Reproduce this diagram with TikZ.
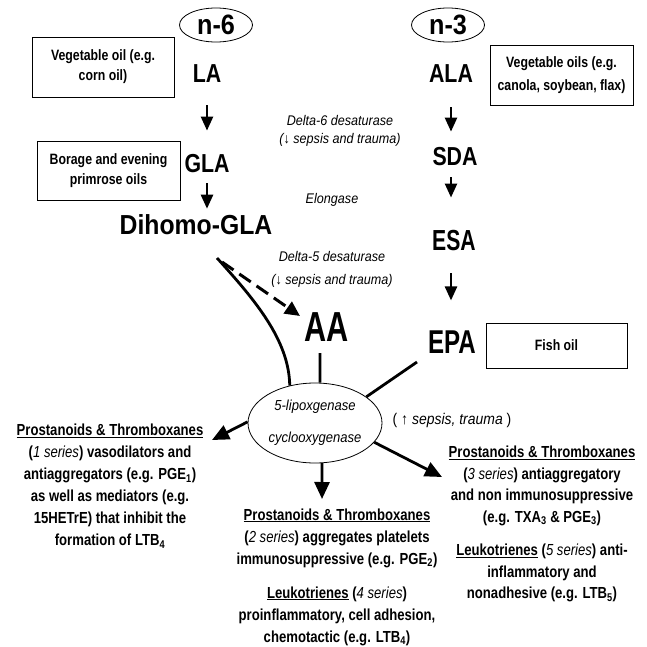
\documentclass[tikz,border=0pt]{standalone}
\usepackage{fontspec}
\setmainfont{Liberation Sans}
\newfontfamily\condA{Liberation Sans}[FakeStretch=0.82]
\newfontfamily\condB{Liberation Sans}[FakeStretch=0.9]
\newfontfamily\condC{Liberation Sans}[FakeStretch=0.73]
\usetikzlibrary{arrows.meta,shapes.geometric}
\tikzset{
  lbl/.style={inner sep=0pt, font=\condA\bfseries\fontsize{26}{30}\selectfont},
  lblc/.style={inner sep=0pt, font=\condC\bfseries\fontsize{#1}{#1}\selectfont},
  src/.style={draw, line width=0.8pt, inner sep=0pt, align=center,
    font=\condA\bfseries\fontsize{15}{20}\selectfont},
  enz/.style={align=center, inner sep=0pt, font=\condB\itshape\fontsize{14}{18}\selectfont},
  eff/.style={align=center, inner sep=0pt, font=\condA\bfseries\fontsize{16}{22}\selectfont},
  omega/.style={ellipse, draw, line width=0.8pt, minimum width=73pt, minimum height=34pt,
    inner sep=0pt, font=\condB\bfseries\fontsize{28}{30}\selectfont},
  flow/.style={line width=2.5pt, -{Triangle[length=14pt,width=12pt]}},
  bigflow/.style={line width=2.8pt, -{Triangle[length=17pt,width=15pt]}},
  link/.style={line width=2.8pt},
}
\begin{document}
\begin{tikzpicture}[x=1pt,y=-1pt]
\useasboundingbox (0,0) rectangle (647,647);
% n-6 column
\node[omega] (n6) at (216,25) {n-6};
\node[lbl] (la) at (207,74) {LA};
\node[lbl] (gla) at (207,164) {GLA};
\node[inner sep=0pt, font=\condB\bfseries\fontsize{27.5}{30}\selectfont] (dgla) at (196,225) {Dihomo-GLA};
\node[lblc=42] (aa) at (327,327) {AA};
% n-3 column
\node[omega] (n3) at (448,25) {n-3};
\node[lbl] (ala) at (451,74) {ALA};
\node[lbl] (sda) at (455,157) {SDA};
\node[lblc=29] (esa) at (454,241) {ESA};
\node[lblc=33] (epa) at (452,342) {EPA};
% sources
\node[src, minimum width=142pt, minimum height=60pt] (veg6) at (103,67) {Vegetable oil (e.g.\\corn oil)};
\node[src, minimum width=143pt, minimum height=59pt] (bor) at (108.5,170.5) {Borage and evening\\primrose oils};
\node[src, minimum width=143pt, minimum height=60pt, font=\condA\bfseries\fontsize{15}{23}\selectfont] (veg3) at (561.5,75) {Vegetable oils (e.g.\\canola, soybean, flax)};
\node[src, minimum width=141pt, minimum height=45pt] (fish) at (556.5,345.5) {Fish oil};
% enzymes
\node[enz] (d6) at (340,131) {Delta-6 desaturase\\(↓ sepsis and trauma)};
\node[enz] (elo) at (332,200) {Elongase};
\node[enz, font=\condB\itshape\fontsize{14}{23}\selectfont] (d5) at (332,269) {Delta-5 desaturase\\(↓ sepsis and trauma)};
\node[ellipse, draw, line width=0.8pt, minimum width=134pt, minimum height=80pt, inner sep=0pt,
  align=center, font=\condB\itshape\fontsize{14.5}{32}\selectfont] (ell) at (315,423) {5-lipoxgenase\\cyclooxygenase};
\node[inner sep=0pt, font=\condB\fontsize{15.5}{18}\selectfont] (sep) at (452,420) {( ↑ \textit{sepsis, trauma} )};
% effects
\node[eff] (left) at (110,486) {\underline{Prostanoids \& Thromboxanes}\\
(\textit{\mdseries 1 series}) vasodilators and\\
antiaggregators (e.g. PGE\textsubscript{1})\\
as well as mediators (e.g.\\
15HETrE) that inhibit the\\
formation of LTB\textsubscript{4}};
\node[eff] (mid) at (337,577) {\underline{Prostanoids \& Thromboxanes}\\
(\textit{\mdseries 2 series}) aggregates platelets\\
immunosuppressive (e.g. PGE\textsubscript{2})\\[12pt]
\underline{Leukotrienes} (\textit{\mdseries 4 series})\\
proinflammatory, cell adhesion,\\
chemotactic (e.g. LTB\textsubscript{4})};
\node[eff, font=\condA\bfseries\fontsize{16}{21.5}\selectfont] (right) at (542,524) {\underline{Prostanoids \& Thromboxanes}\\
(\textit{\mdseries 3 series}) antiaggregatory\\
and non immunosuppressive\\
(e.g. TXA\textsubscript{3} \& PGE\textsubscript{3})\\[12pt]
\underline{Leukotrienes} (\textit{\mdseries 5 series}) anti-\\
inflammatory and\\
nonadhesive (e.g. LTB\textsubscript{5})};
% free ends
\coordinate (dstart) at (222,262);
\coordinate (dend) at (300,316);
\coordinate (cstart) at (217,258);
\coordinate (aaend) at (320,353);
\coordinate (epaend) at (417,362);
\coordinate (tipL) at (212,440);
\coordinate (tipD) at (322,499);
\coordinate (tipR) at (442,477);
% flow arrows
\draw[flow, shorten <=22pt, shorten >=24pt] (la.south) -- (gla.north);
\draw[flow, shorten <=10pt, shorten >=6pt] (gla.south) -- (gla.south |- dgla.north);
\draw[flow, shorten <=24pt, shorten >=16pt] (ala.south) -- (ala.south |- sda.north);
\draw[flow, shorten <=11pt, shorten >=33pt] (ala.south |- sda.south) -- (ala.south |- esa.north);
\draw[flow, shorten <=22pt, shorten >=30pt] (ala.south |- esa.south) -- (ala.south |- epa.north);
\draw[line width=3pt, dash pattern=on 14pt off 7pt, -{Triangle[length=15pt,width=14pt]}] (dstart) -- (dend);
\draw[link] (cstart) .. controls (255,300) and (289,340) .. (ell.124);
\draw[link] (aaend) -- (ell.83);
\draw[link] (epaend) -- (ell.27);
\draw[bigflow] (ell.179) -- (tipL);
\draw[bigflow] (ell.-80) -- (tipD);
\draw[bigflow] (ell.-18) -- (tipR);
\end{tikzpicture}
\end{document}
